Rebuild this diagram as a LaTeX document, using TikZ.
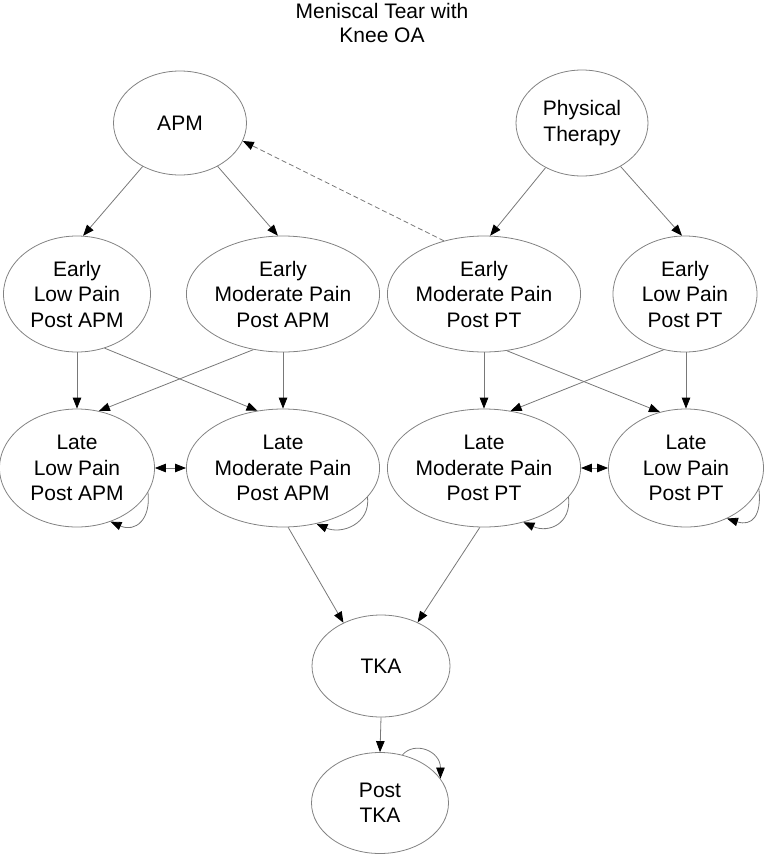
\documentclass[tikz,border=0pt]{standalone}
\usepackage{fontspec}
\setmainfont{Liberation Sans}
\usetikzlibrary{shapes.geometric,arrows.meta}
\definecolor{edgegray}{RGB}{120,120,120}
\definecolor{ovalgray}{RGB}{130,130,130}
\tikzset{
  state/.style={ellipse, draw=ovalgray, line width=0.8pt, inner sep=0pt, align=center,
    font=\fontsize{21}{25.5}\selectfont},
  conn/.style={draw=edgegray, line width=0.8pt, -{Triangle[length=11pt,width=8.5pt,color=black]}},
  dconn/.style={conn, dash pattern=on 5pt off 3pt},
  bconn/.style={draw=edgegray, line width=0.8pt, {Triangle[length=11pt,width=8.5pt,color=black]}-{Triangle[length=11pt,width=8.5pt,color=black]}},
}
\begin{document}
\begin{tikzpicture}[x=1pt,y=-1pt]
\useasboundingbox (0,0) rectangle (764,854);
\node[align=center,font=\fontsize{21}{24}\selectfont] (title) at (382,23) {Meniscal Tear with\\Knee OA};

\node[state, minimum width=133pt, minimum height=104pt] (APM) at (180,123) {APM};
\node[state, minimum width=132pt, minimum height=106pt] (PT) at (582,123) {Physical\\Therapy};

\node[state, minimum width=147pt, minimum height=116pt] (ELA) at (77,294) {Early\\Low Pain\\Post APM};
\node[state, minimum width=152pt, minimum height=116pt] (EMA) at (283,294) {Early\\Moderate Pain\\Post APM};
\node[state, minimum width=150pt, minimum height=116pt] (EMP) at (484,294) {Early\\Moderate Pain\\Post PT};
\node[state, minimum width=144pt, minimum height=116pt] (ELP) at (685,294) {Early\\Low Pain\\Post PT};

\node[state, minimum width=155pt, minimum height=118pt] (LLA) at (77,468) {Late\\Low Pain\\Post APM};
\node[state, minimum width=156pt, minimum height=118pt] (LMA) at (283,468) {Late\\Moderate Pain\\Post APM};
\node[state, minimum width=156pt, minimum height=118pt] (LMP) at (484,468) {Late\\Moderate Pain\\Post PT};
\node[state, minimum width=155pt, minimum height=118pt] (LLP) at (686,468) {Late\\Low Pain\\Post PT};

\node[state, minimum width=138pt, minimum height=102pt] (TKA) at (381,666) {TKA};
\node[state, minimum width=137pt, minimum height=101pt] (PTKA) at (380,803) {Post\\TKA};

% top to row 2
\draw[conn] (APM) -- (ELA.84);
\draw[conn] (APM) -- (EMA.95);
\draw[conn] (PT) -- (EMP.84);
\draw[conn] (PT) -- (ELP.93);
\draw[dconn] (EMP.127) -- (APM.344);

% row 2 to row 3
\draw[conn] (ELA.south -| LLA.north) -- (LLA.north);
\draw[conn] (EMA.south) -- (LMA.north);
\draw[conn] (EMP.south) -- (LMP.north);
\draw[conn] (ELP.south -| LLP.north) -- (LLP.north);
\draw[conn] (ELA.297) -- (LMA.114);
\draw[conn] (EMA.242) -- (LLA.69);
\draw[conn] (EMP.292) -- (LLP.115);
\draw[conn] (ELP.249) -- (LMP.65);

% row 3 lateral
\draw[bconn] (LLA.east) -- (LMA.west);
\draw[bconn] (LMP.east) -- (LLP.west);

% self loops
\draw[conn] (LLA.-19) .. controls +(3,27) and +(25,11) .. (LLA.-58);
\draw[conn] (LMA.-19) .. controls +(3,27) and +(25,11) .. (LMA.-59);
\draw[conn] (LMP.-19) .. controls +(3,27) and +(25,11) .. (LMP.-54);
\draw[conn] (LLP.-16) .. controls +(3,27) and +(25,8) .. (LLP.-51);

% to TKA
\draw[conn] (LMA.-85) -- (TKA.131);
\draw[conn] (LMP.266) -- (TKA.50);
\draw[conn] (TKA.south) -- (PTKA.north);
\draw[conn] (PTKA.65) .. controls +(12,-14) and +(0,-28) .. (PTKA.22);
\end{tikzpicture}
\end{document}
